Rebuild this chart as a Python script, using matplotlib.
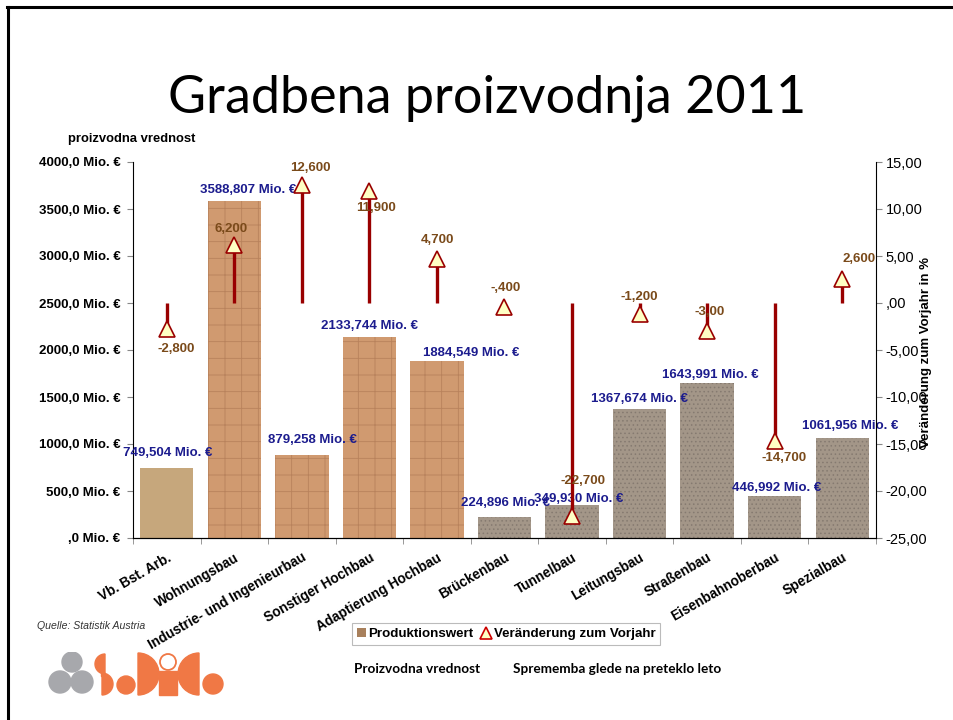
import matplotlib.pyplot as plt
import numpy as np
from matplotlib.patches import Patch, Circle, Wedge, Rectangle
from matplotlib.lines import Line2D

# data
categories = ["Vb. Bst. Arb.", "Wohnungsbau", "Industrie- und Ingenieurbau",
              "Sonstiger Hochbau", "Adaptierung Hochbau", "Brückenbau",
              "Tunnelbau", "Leitungsbau", "Straßenbau", "Eisenbahnoberbau",
              "Spezialbau"]
prod_value = [749.504, 3588.807, 879.258, 2133.744, 1884.549, 224.896,
              349.930, 1367.674, 1643.991, 446.992, 1061.956]
prod_labels = ["749,504 Mio. €", "3588,807 Mio. €", "879,258 Mio. €",
               "2133,744 Mio. €", "1884,549 Mio. €", "224,896 Mio. €",
               "349,930 Mio. €", "1367,674 Mio. €", "1643,991 Mio. €",
               "446,992 Mio. €", "1061,956 Mio. €"]
change = [-2.8, 6.2, 12.6, 11.9, 4.7, -0.4, -22.7, -1.2, -3.0, -14.7, 2.6]
change_labels = ["-2,800", "6,200", "12,600", "11,900", "4,700", "-,400",
                 "-22,700", "-1,200", "-3,00", "-14,700", "2,600"]
left_ticks = [0, 500, 1000, 1500, 2000, 2500, 3000, 3500, 4000]
left_ticklabels = [",0 Mio. €", "500,0 Mio. €", "1000,0 Mio. €", "1500,0 Mio. €",
                   "2000,0 Mio. €", "2500,0 Mio. €", "3000,0 Mio. €",
                   "3500,0 Mio. €", "4000,0 Mio. €"]
right_ticks = [-25, -20, -15, -10, -5, 0, 5, 10, 15]
right_ticklabels = ["-25,00", "-20,00", "-15,00", "-10,00", "-5,00", ",00",
                    "5,00", "10,00", "15,00"]

# styling per bar (texture stand-ins) and label nudges in pixels
bar_face = ["#C6A77C"] + ["#D09A70"] * 4 + ["#A39688"] * 6
bar_hatch = [None] + ["+"] * 4 + ["...."] * 6
bar_hcol = ["#B08E62"] + ["#B8825C"] * 4 + ["#857A70"] * 6
prod_dx = [1, 14, 11, 0, 34, 1, 7, 0, 3, 2, 8]
prod_dy = [9, 5, 9, 5, 2, 8, 0, 4, 2, 2, 6]
chg_dx = [9, -3, 9, 7, 0, 1, 11, 0, 2, 9, 17]
chg_dy = [-20, 16, 17, -17, 19, 19, 35, 17, 19, -17, 20]

plt.rcParams["hatch.linewidth"] = 0.6
sans = "Liberation Sans"
navy = "#1C1C8E"
brown = "#7A4A1A"
dred = "#990000"
fs = 9.5

fig = plt.figure(figsize=(9.54, 7.2), dpi=100)
ax = fig.add_axes([133 / 954, 1 - 538 / 720, 743 / 954, 376 / 720])
x = np.arange(len(categories))

for i in range(len(categories)):
    ax.bar(x[i], prod_value[i], width=0.79, color=bar_face[i],
           hatch=bar_hatch[i], edgecolor=bar_hcol[i], linewidth=0, zorder=2)
    ax.annotate(prod_labels[i], (x[i], prod_value[i]),
                xytext=(prod_dx[i], prod_dy[i]), textcoords="offset pixels",
                ha="center", va="bottom", color=navy, fontsize=fs,
                fontweight="bold", family=sans, zorder=5)

ax.set_xlim(-0.5, len(categories) - 0.5)
ax.set_ylim(0, 4000)
ax.set_yticks(left_ticks)
ax.set_yticklabels(left_ticklabels, fontsize=fs, fontweight="bold", family=sans)
ax.set_xticks(x)
ax.set_xticklabels(categories, rotation=30, ha="right", rotation_mode="anchor",
                   fontsize=9.8, fontweight="bold", family=sans)
ax.set_xticks(np.arange(len(categories) + 1) - 0.5, minor=True)
ax.tick_params(axis="x", which="major", length=0, pad=9)
ax.tick_params(axis="x", which="minor", length=4, color="#888888")
ax.tick_params(axis="y", length=4, color="#888888", pad=5)
ax.spines["top"].set_visible(False)
ax.spines["right"].set_visible(False)

ax2 = ax.twinx()
ax2.set_ylim(-25, 15)
ax2.vlines(x, 0, change, color=dred, linewidth=2.4, zorder=3)
ax2.plot(x, change, linestyle="none", marker="^", markersize=12,
         markerfacecolor="#FFFFC4", markeredgecolor=dred, markeredgewidth=1.2,
         zorder=4)
for i in range(len(categories)):
    ax2.annotate(change_labels[i], (x[i], change[i]),
                 xytext=(chg_dx[i], chg_dy[i]), textcoords="offset pixels",
                 ha="center", va="center", color=brown, fontsize=fs,
                 fontweight="bold", family=sans, zorder=6)
ax2.set_yticks(right_ticks)
ax2.set_yticklabels(right_ticklabels, fontsize=10.5, family=sans)
ax2.tick_params(axis="y", length=4, color="#888888", pad=3)
ax2.spines["top"].set_visible(False)
ax2.spines["left"].set_visible(False)

fig.text(926 / 954, 1 - 352 / 720, "Veränderung zum Vorjahr in %", rotation=90,
         ha="center", va="center", fontsize=fs, fontweight="bold", family=sans)
fig.text(68 / 954, 1 - 139 / 720, "proizvodna vrednost", ha="left",
         va="center", fontsize=9.4, fontweight="bold", family=sans)

# slide title and frame
fig.text(487 / 954, 1 - 98 / 720, "Gradbena proizvodnja 2011", ha="center",
         va="center", fontsize=37.5, fontweight="normal", family="Lato")
fig.add_artist(Line2D([7 / 954, 1], [1 - 7 / 720, 1 - 7 / 720],
                      transform=fig.transFigure, color="black", linewidth=2.2))
fig.add_artist(Line2D([8 / 954, 8 / 954], [0, 1 - 7 / 720],
                      transform=fig.transFigure, color="black", linewidth=2.2))

fig.text(37 / 954, 1 - 626 / 720, "Quelle: Statistik Austria", ha="left",
         va="center", fontsize=7.6, style="italic", family=sans, color="#333333")

handles = [Patch(facecolor="#A8805C", edgecolor="none"),
           Line2D([], [], linestyle="none", marker="^", markersize=8,
                  markerfacecolor="#FFFFC4", markeredgecolor="#CC0000",
                  markeredgewidth=1.2)]
leg = fig.legend(handles, ["Produktionswert", "Veränderung zum Vorjahr"],
                 loc="center", bbox_to_anchor=(506 / 954, 1 - 634 / 720),
                 ncol=2, fancybox=False, edgecolor="#AAAAAA", handlelength=0.7,
                 handleheight=0.7, handletextpad=0.2, columnspacing=0.6,
                 borderpad=0.35, prop={"family": sans, "weight": "bold", "size": 9.6})
leg.get_frame().set_linewidth(0.8)

fig.text(417 / 954, 1 - 669 / 720, "Proizvodna vrednost", ha="center",
         va="center", fontsize=9.8, fontweight="bold", family="Lato")
fig.text(617 / 954, 1 - 669 / 720, "Sprememba glede na preteklo leto",
         ha="center", va="center", fontsize=9.8, fontweight="bold", family="Lato")

# logo
lg = fig.add_axes([48 / 954, 20 / 720, 180 / 954, 48 / 720])
lg.set_xlim(48, 228)
lg.set_ylim(20, 68)
lg.axis("off")
grey = "#A7A8AC"
orange = "#F07845"
lg.add_patch(Circle((72, 58), 10, color=grey))
lg.add_patch(Circle((60, 38), 11, color=grey))
lg.add_patch(Circle((82, 38), 11, color=grey))
lg.add_patch(Wedge((105, 56), 10, 90, 270, color=orange))
lg.add_patch(Rectangle((101, 44), 3, 4, color=orange))
lg.add_patch(Wedge((102, 36), 11, -90, 90, color=orange))
lg.add_patch(Circle((126, 35), 9, color=orange))
lg.add_patch(Wedge((138, 46), 21, -90, 90, color=orange))
lg.add_patch(Circle((168, 58), 8, facecolor="none", edgecolor=orange, linewidth=1.3))
lg.add_patch(Rectangle((159, 25), 18, 24, color=orange))
lg.add_patch(Wedge((199, 46), 21, 90, 270, color=orange))
lg.add_patch(Circle((213, 36), 10, color=orange))

fig.savefig("out.png", dpi=100)
